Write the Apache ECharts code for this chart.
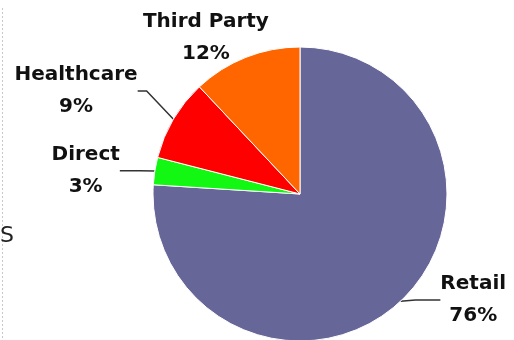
<!DOCTYPE html>
<html>
<head>
<meta charset="utf-8">
<script src="https://cdn.jsdelivr.net/npm/echarts@6/dist/echarts.min.js"></script>
<style>
  html, body { margin: 0; padding: 0; background: #fff; }
  #chart { width: 514px; height: 340px; }
</style>
</head>
<body>
<div id="chart"></div>
<script>
// slices, clockwise from 12 o'clock
const categories = ['Retail', 'Direct', 'Healthcare', 'Third Party'];
const shares = [76, 3, 9, 12];

const chart = echarts.init(document.getElementById('chart'));

// per-slice label line lengths and label nudges
const lineLen = [4, 2, 30, 0];
const lineLen2 = [25, 20, 9, 0];
const nudgeX = [7, -8, 4, 28];
const nudgeY = [-4, 0, -13, -20];

const option = {
  animation: false,
  color: ['#666699', '#12f812', '#ff0000', '#ff6600'],
  graphic: [
    {
      type: 'line',
      shape: { x1: 2.5, y1: 8, x2: 2.5, y2: 340 },
      style: { stroke: '#c8c8c8', lineWidth: 1, lineDash: [2, 2] }
    },
    {
      type: 'text',
      left: 0,
      top: 225,
      style: { text: 'S', font: '22px "DejaVu Sans"', fill: '#222' }
    }
  ],
  series: [{
    type: 'pie',
    center: [300, 194],
    radius: 147,
    startAngle: 90,
    clockwise: true,
    avoidLabelOverlap: false,
    itemStyle: { borderColor: '#fff', borderWidth: 1 },
    label: {
      show: true,
      position: 'outside',
      formatter: '{b}\n{c}%',
      fontFamily: 'DejaVu Sans',
      fontWeight: 'bold',
      fontSize: 20,
      lineHeight: 32,
      color: '#111'
    },
    labelLine: {
      show: true,
      lineStyle: { color: '#333', width: 1.5 }
    },
    labelLayout: function (params) {
      const i = params.dataIndex;
      const r = params.labelRect;
      return {
        x: r.x + r.width / 2 + nudgeX[i],
        y: r.y + r.height / 2 + nudgeY[i],
        align: 'center',
        verticalAlign: 'middle'
      };
    },
    emphasis: { disabled: true },
    data: categories.map(function (name, i) {
      return {
        name: name,
        value: shares[i],
        labelLine: { show: i !== 3, length: lineLen[i], length2: lineLen2[i] }
      };
    })
  }]
};

chart.setOption(option);
</script>
</body>
</html>
